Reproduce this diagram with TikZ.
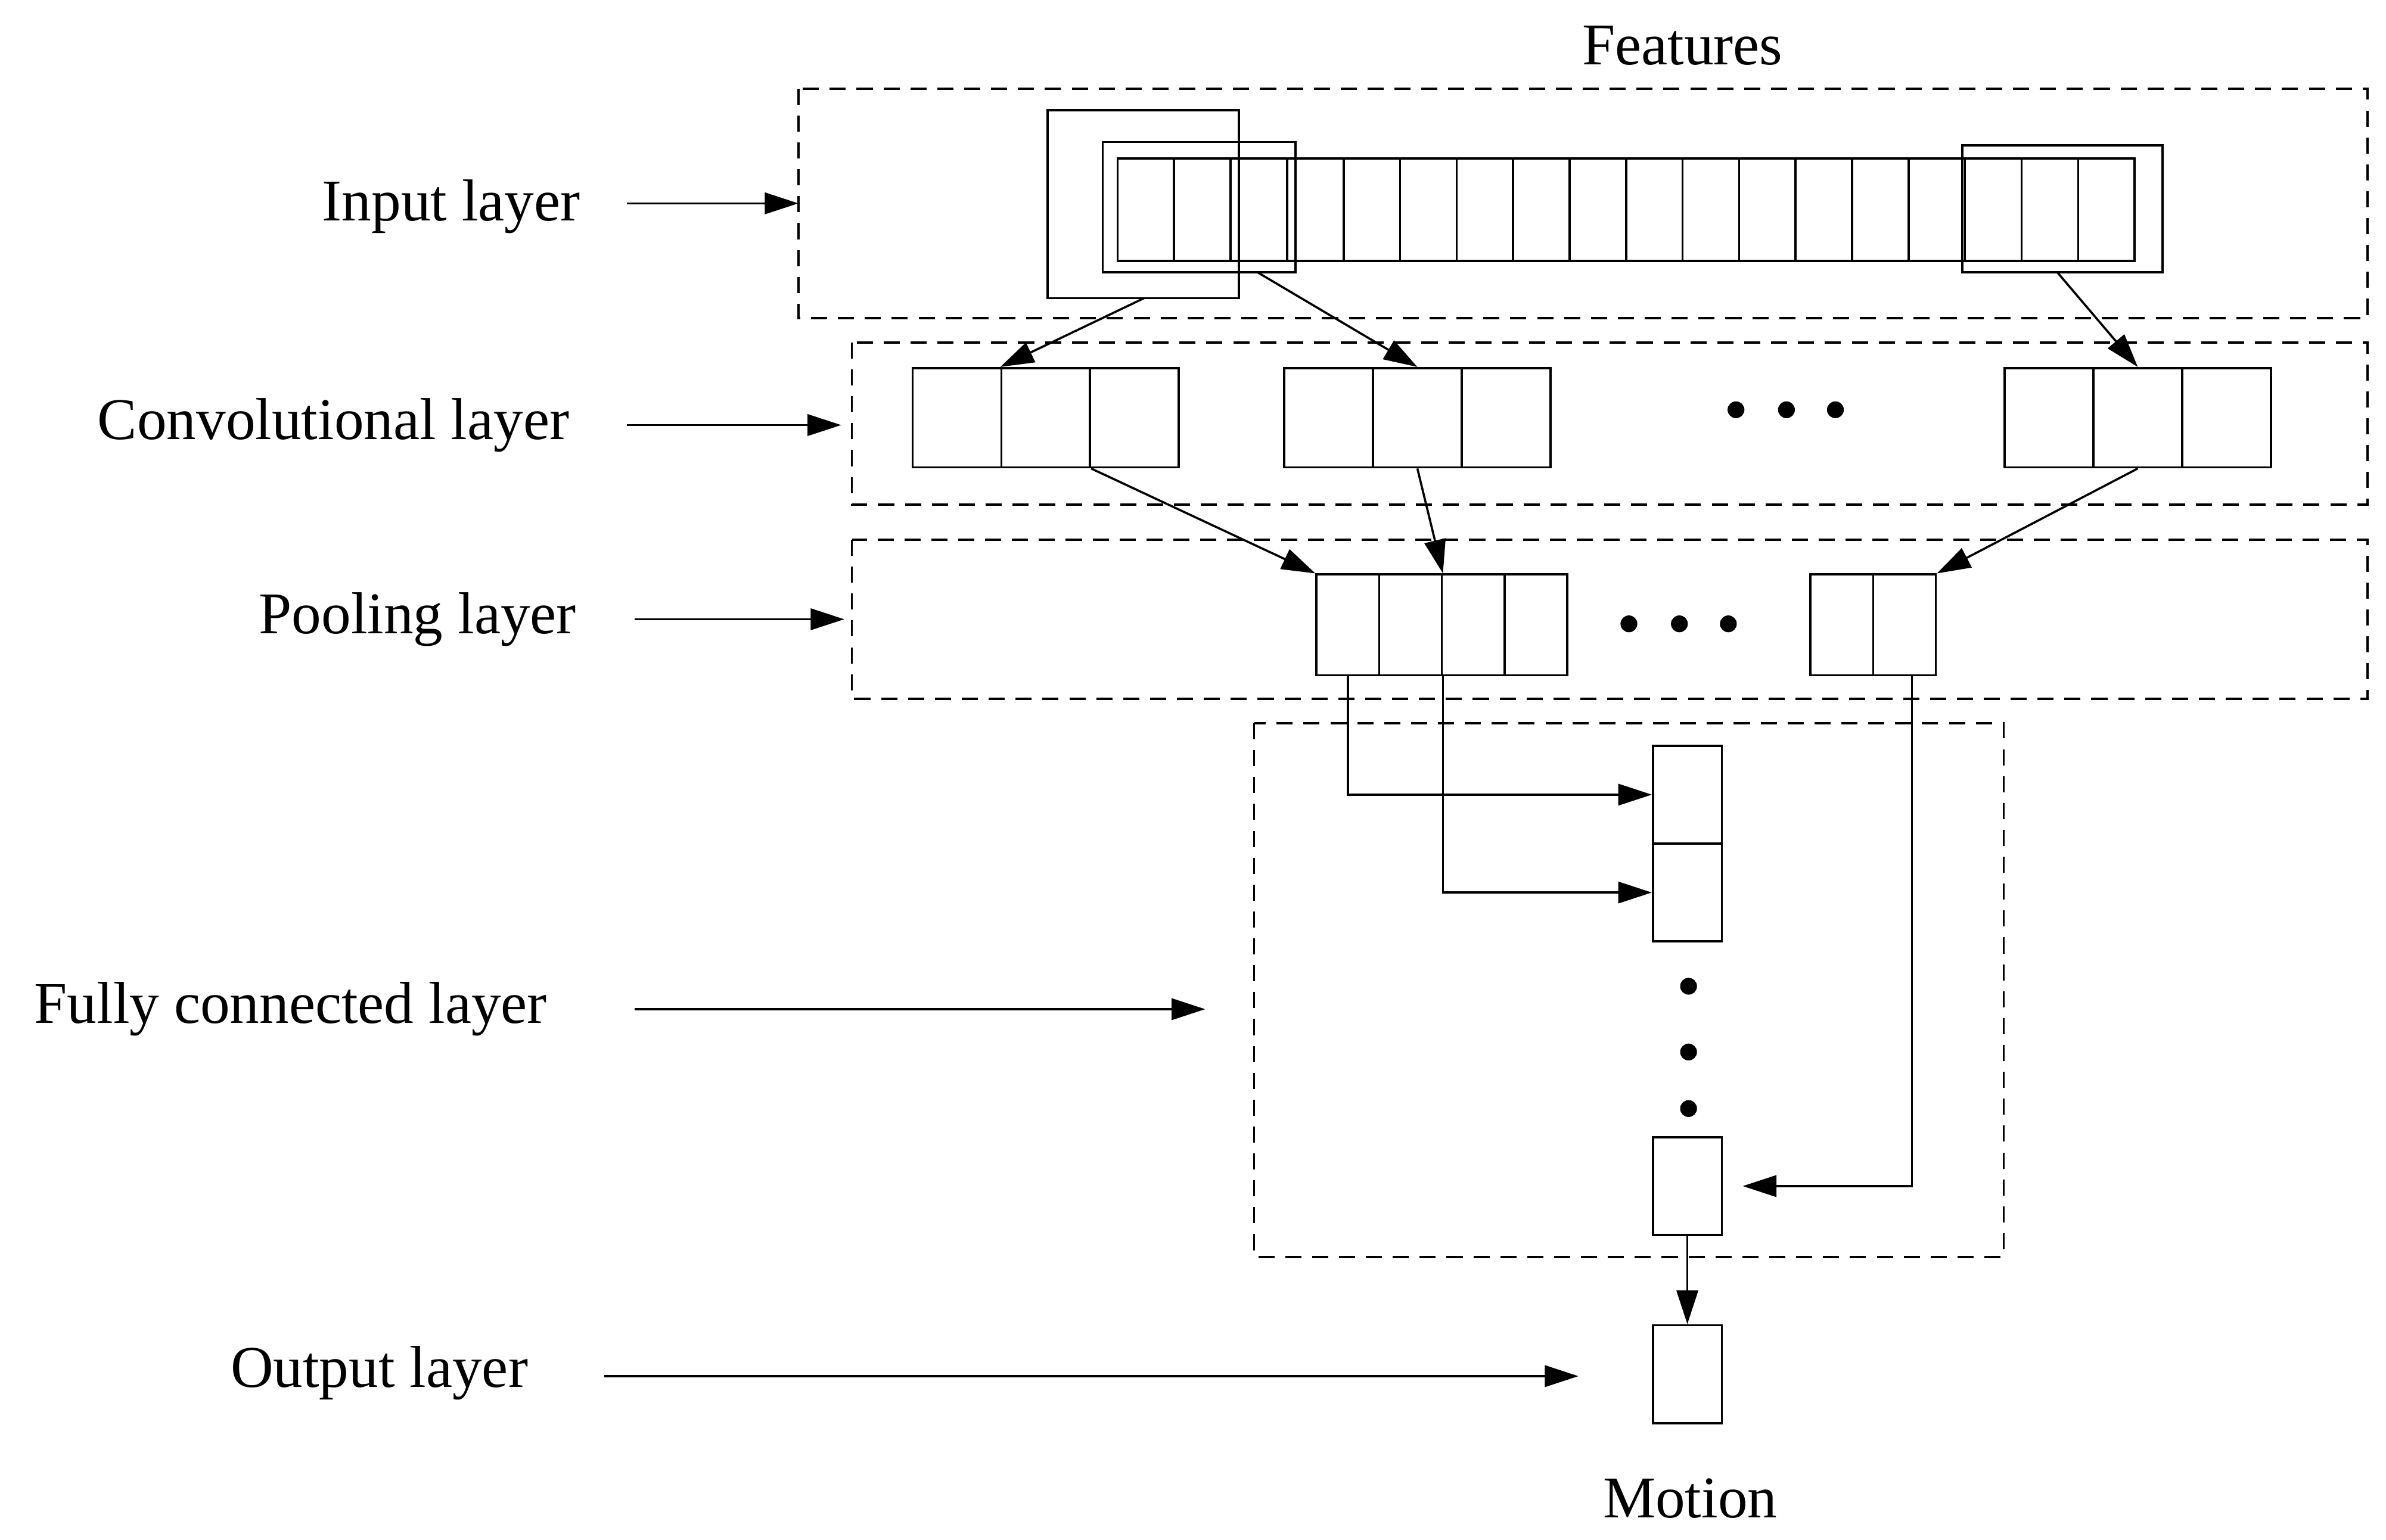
\documentclass[tikz,border=0pt]{standalone}
\usepackage{fontspec}
\setmainfont{Liberation Serif}
\usetikzlibrary{arrows.meta}
\tikzset{
    layer/.style={draw, densely dashed, thin},
    cell/.style={draw, thin},
    conn/.style={-{Triangle[length=2.2mm,width=1.4mm]}, thin},
    lbl/.style={font=\fontsize{11}{13}\selectfont, inner sep=0pt},
    dot/.style={circle, fill, inner sep=0pt, minimum size=1.1mm},
}
% row of cells: x0, y0, cell width, height, count, name
\newcommand{\cellrow}[6]{%
    \foreach \i in {1,...,#5}{
        \node[cell, minimum width=#3*0.01cm, minimum height=#4*0.01cm, inner sep=0pt, anchor=north west]
            (#6\i) at ({#1+(\i-1)*#3},#2) {};
    }
}
\begin{document}
\begin{tikzpicture}[x=0.01cm, y=-0.01cm]
    \useasboundingbox (0,0) rectangle (1560,1007);
    % layers
    \draw[layer] (522,58) rectangle (1548,208);
    \draw[layer] (557,224) rectangle (1548,330);
    \draw[layer] (557,353) rectangle (1548,457);
    \draw[layer] (820,473) rectangle (1310,822);
    % input features
    \cellrow{730}{103}{36.94}{67}{18}{in}
    \draw[cell] (685,72) rectangle (810,195);
    \draw[cell] (721,93) rectangle (847,178);
    \draw[cell] (1283,95) rectangle (1414,178);
    \coordinate (winA) at (748,195);
    \coordinate (winB) at (822,178);
    \coordinate (winC) at (1345,178);
    % convolution
    \cellrow{596}{240}{58}{65}{3}{ca}
    \cellrow{839}{240}{58}{65}{3}{cb}
    \cellrow{1310}{240}{58}{65}{3}{cc}
    \foreach \x in {1135,1168,1200} \node[dot] at (\x,268) {};
    % pooling
    \cellrow{860}{375}{41}{66}{4}{pa}
    \cellrow{1183}{375}{41}{66}{2}{pb}
    \foreach \x in {1065,1098,1130} \node[dot] at (\x,408) {};
    % fully connected
    \cellrow{1080}{487}{45}{64}{1}{fa}
    \cellrow{1080}{551}{45}{64}{1}{fb}
    \cellrow{1080}{743}{45}{64}{1}{fc}
    \foreach \y in {645,688,725} \node[dot] at (1104,\y) {};
    % output
    \cellrow{1080}{866}{45}{64}{1}{out}
    % connectors
    \draw[conn] (winA) -- (ca2.north west);
    \draw[conn] (winB) -- (cb2.north);
    \draw[conn] (winC) -- (cc2.north);
    \draw[conn] (ca2.south east) -- (pa1.north west);
    \draw[conn] (cb2.south) -- (pa2.north east);
    \draw[conn] (cc2.south) -- (pb2.north east);
    \draw[conn] (pa1.south) |- (fa1.west);
    \draw[conn] (pa2.south east) |- (fb1.west);
    \draw[conn] (1250,441) |- ([xshift=0.13cm]fc1.east);
    \draw[conn] (fc1.south) -- (out1.north);
    % labels
    \node[lbl] at (1100,30) {Features};
    \node[lbl] at (1105,980) {Motion};
    \node[lbl] (lin) at (295,135) {Input layer};
    \node[lbl] (lconv) at (218,278) {Convolutional layer};
    \node[lbl] (lpool) at (273,405) {Pooling layer};
    \node[lbl] (lfc) at (190,660) {Fully connected layer};
    \node[lbl] (lout) at (248,898) {Output layer};
    \draw[conn] (410,133) -- (522,133);
    \draw[conn] (410,278) -- (550,278);
    \draw[conn] (415,405) -- (552,405);
    \draw[conn] (415,660) -- (788,660);
    \draw[conn] (395,900) -- (1032,900);
\end{tikzpicture}
\end{document}
